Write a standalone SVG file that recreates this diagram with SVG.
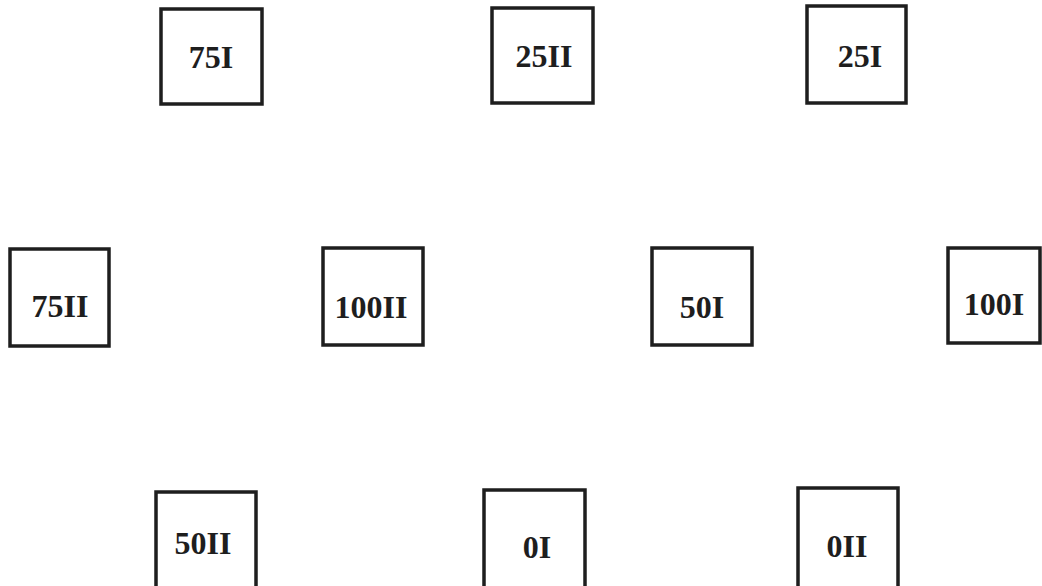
<svg xmlns="http://www.w3.org/2000/svg" width="1042" height="586" viewBox="0 0 1042 586">
<style>
.box{fill:#fff;stroke:#1e1e1e;stroke-width:3.5}
.lbl{font-family:"Liberation Serif",serif;font-weight:bold;font-size:32px;fill:#1e1e1e;text-anchor:middle}
</style>
<rect width="1042" height="586" fill="#fff"/>
<g id="connectors"></g>
<g id="n75I"><rect class="box" x="161" y="9" width="101" height="95"/><text class="lbl" x="211" y="68">75I</text></g>
<g id="n25II"><rect class="box" x="492" y="8" width="101" height="95"/><text class="lbl" x="544" y="67">25II</text></g>
<g id="n25I"><rect class="box" x="807" y="6" width="99" height="97"/><text class="lbl" x="860" y="67">25I</text></g>
<g id="n75II"><rect class="box" x="10" y="249" width="99" height="97"/><text class="lbl" x="60" y="317">75II</text></g>
<g id="n100II"><rect class="box" x="323" y="248" width="100" height="97"/><text class="lbl" x="371" y="318">100II</text></g>
<g id="n50I"><rect class="box" x="652" y="248" width="100" height="97"/><text class="lbl" x="702" y="318">50I</text></g>
<g id="n100I"><rect class="box" x="948" y="248" width="92" height="95"/><text class="lbl" x="994" y="315">100I</text></g>
<g id="n50II"><rect class="box" x="156" y="492" width="100" height="100"/><text class="lbl" x="203" y="554">50II</text></g>
<g id="n0I"><rect class="box" x="484" y="490" width="101" height="100"/><text class="lbl" x="537" y="558">0I</text></g>
<g id="n0II"><rect class="box" x="798" y="488" width="100" height="102"/><text class="lbl" x="847" y="557">0II</text></g>
</svg>
